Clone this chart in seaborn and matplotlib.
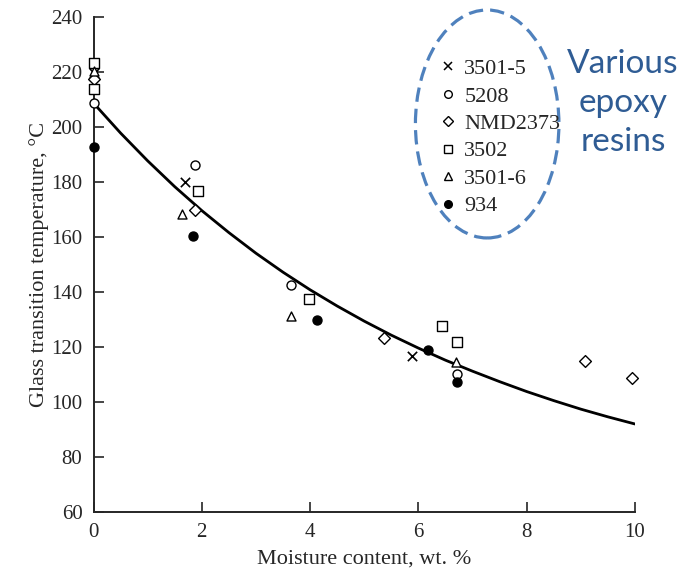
import numpy as np
import pandas as pd
import matplotlib
matplotlib.use('Agg')
import matplotlib.pyplot as plt
import seaborn as sns
from matplotlib.patches import Ellipse
from matplotlib.lines import Line2D

# Data (moisture wt.% -> Tg in degC)
x_3501_5 = [0, 1.69, 5.89]
y_3501_5 = [219.5, 180.0, 116.9]
x_5208 = [0, 1.87, 3.65, 6.71]
y_5208 = [208.7, 186.2, 142.6, 110.3]
x_nmd = [0, 1.88, 5.36, 9.07, 9.95]
y_nmd = [217.5, 169.9, 123.3, 114.9, 108.8]
x_3502 = [0, 0, 1.93, 3.98, 6.43, 6.71]
y_3502 = [223.3, 214.0, 176.6, 137.4, 127.6, 121.7]
x_3501_6 = [0, 1.63, 3.65, 6.69]
y_3501_6 = [220.2, 168.3, 131.3, 114.6]
x_934 = [0, 1.84, 4.13, 6.18, 6.71]
y_934 = [192.9, 160.4, 129.8, 118.8, 107.3]

# fitted curve, read at 0.5 steps
curve_x = [0, 0.5, 1, 1.5, 2, 2.5, 3, 3.5, 4, 4.5, 5, 5.5, 6, 6.5, 7, 7.5, 8, 8.5, 9, 9.5, 10]
curve_y = [208.7, 197.8, 187.7, 178.3, 169.6, 161.6, 154.1, 147.2, 140.8, 134.9, 129.4,
           124.3, 119.6, 115.2, 111.2, 107.4, 103.8, 100.5, 97.4, 94.6, 92.0]

labels = ['3501-5', '5208', 'NMD2373', '3502', '3501-6', '934']

sns.set_style('ticks')
plt.rcParams['font.family'] = ['Liberation Serif', 'DejaVu Serif']

fig = plt.figure(figsize=(6.83, 5.72), dpi=100)
ax = fig.add_axes([93.5/683, 60/572, (635-93.5)/683, (512-17)/572])

sns.lineplot(x=curve_x, y=curve_y, ax=ax, color='black', linewidth=2.0)

series = [
    (x_3501_5, y_3501_5, 'x', 'black'),
    (x_5208, y_5208, 'o', 'white'),
    (x_nmd, y_nmd, 'D', 'white'),
    (x_3502, y_3502, 's', 'white'),
    (x_3501_6, y_3501_6, '^', 'white'),
    (x_934, y_934, 'o', 'black'),
]
for xs, ys, m, fc in series:
    if m == 'x':
        sns.scatterplot(x=xs, y=ys, ax=ax, marker='x', color='black', s=45,
                        linewidth=1.2, clip_on=False, zorder=3)
    else:
        sns.scatterplot(x=xs, y=ys, ax=ax, marker=m, facecolor=fc, edgecolor='black',
                        s=42 if m != 'D' else 36, linewidth=1.0, clip_on=False, zorder=3)

ax.set_xlim(0, 10)
ax.set_ylim(60, 240)
ax.set_xticks(np.arange(0, 11, 2))
ax.set_yticks(np.arange(60, 241, 20))
ax.tick_params(direction='in', length=7, width=1.2, labelsize=15, pad=8)
sns.despine(ax=ax)
for sp in ['left', 'bottom']:
    ax.spines[sp].set_linewidth(1.4)

ax.set_xlabel('Moisture content, wt. %', fontsize=16, labelpad=5)
ax.set_ylabel('Glass transition temperature, °C', fontsize=16, labelpad=1.5)

# legend
handles = []
for xs, ys, m, fc in series:
    if m == 'x':
        handles.append(Line2D([], [], linestyle='none', marker='x', color='black',
                              markersize=5.5, markeredgewidth=1.1))
    else:
        handles.append(Line2D([], [], linestyle='none', marker=m, markerfacecolor=fc,
                              markeredgecolor='black', markersize=5.5 if m != 'D' else 5,
                              markeredgewidth=1.0))
ax.legend(handles, labels, loc='upper left', bbox_to_anchor=(441/683, 1 - 58.5/572),
          bbox_transform=fig.transFigure, frameon=False, fontsize=16,
          handlelength=0.6, handletextpad=0.45, labelspacing=0.31, borderpad=0,
          borderaxespad=0)

# dashed ellipse around the legend
ell = Ellipse((7.27, 201.1), 2.65, 82.9, fill=False, edgecolor='#4F81BD',
              linewidth=2.3, linestyle=(0, (4.5, 2.2)), clip_on=False, zorder=4)
ax.add_patch(ell)

fig.text(623/683, 1 - 103/572, 'Various\nepoxy\nresins', ha='center', va='center',
         multialignment='center', fontsize=24, color='#2F5C94', family=['Lato', 'DejaVu Sans'],
         linespacing=1.36)

fig.savefig('out.png', dpi=100)
